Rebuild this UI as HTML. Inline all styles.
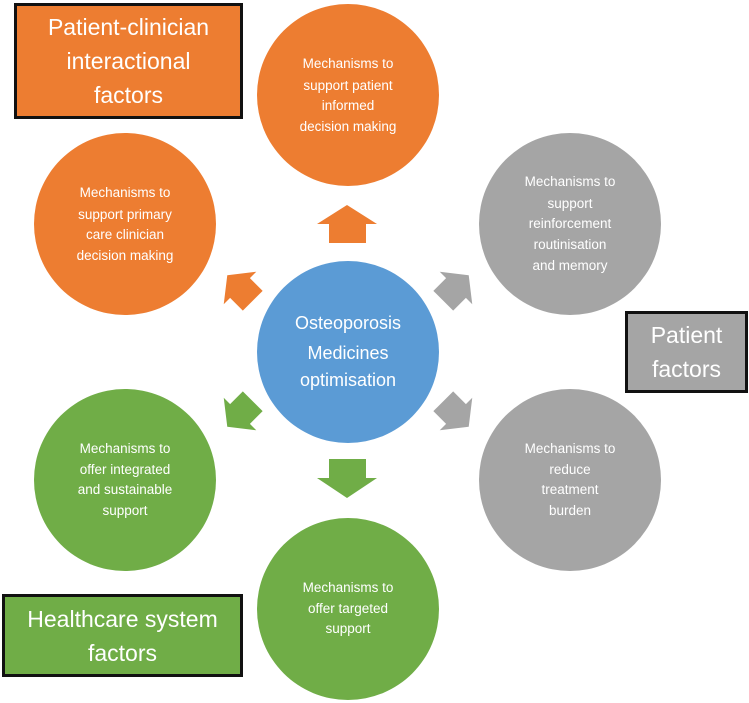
<!DOCTYPE html>
<html><head><style>
html,body{margin:0;padding:0;background:#fff;}
body{width:749px;height:703px;overflow:hidden;position:relative;font-family:"Liberation Sans",sans-serif;}
svg{position:absolute;left:0;top:0;}
.box{position:absolute;box-sizing:border-box;border:3px solid #111;color:#fff;text-align:center;font-size:23px;line-height:34px;display:flex;align-items:center;justify-content:center;}
</style></head><body>
<svg width="749" height="703" viewBox="0 0 749 703" font-family="Liberation Sans, sans-serif">
<g>
<ellipse cx="348" cy="95" rx="91" ry="91" fill="#ED7D31"/>
<ellipse cx="125" cy="224" rx="91" ry="91" fill="#ED7D31"/>
<ellipse cx="570" cy="224" rx="91" ry="91" fill="#A5A5A5"/>
<ellipse cx="348" cy="352" rx="91" ry="91" fill="#5B9BD5"/>
<ellipse cx="570" cy="480" rx="91" ry="91" fill="#A5A5A5"/>
<ellipse cx="125" cy="480" rx="91" ry="91" fill="#70AD47"/>
<ellipse cx="348" cy="609" rx="91" ry="91" fill="#70AD47"/>
</g>
<!-- straight arrows -->
<polygon points="347,205 377,224 366,224 366,243 329,243 329,224 317,224" fill="#ED7D31"/>
<polygon points="347,498 377,478 366,478 366,459 329,459 329,478 317,478" fill="#70AD47"/>
<!-- diagonal arrows: base shape pointing up centered at origin -->
<g transform="translate(240,288) rotate(-45)"><polygon points="0,-18 23,0 14,0 14,18 -14,18 -14,0 -23,0" fill="#ED7D31"/></g>
<g transform="translate(456,288) rotate(45)"><polygon points="0,-18 23,0 14,0 14,18 -14,18 -14,0 -23,0" fill="#A5A5A5"/></g>
<g transform="translate(240,414) rotate(-135)"><polygon points="0,-18 23,0 14,0 14,18 -14,18 -14,0 -23,0" fill="#70AD47"/></g>
<g transform="translate(456,414) rotate(135)"><polygon points="0,-18 23,0 14,0 14,18 -14,18 -14,0 -23,0" fill="#A5A5A5"/></g>
<g fill="#fff" font-size="13.5" text-anchor="middle">
<text x="348" y="68">Mechanisms to</text>
<text x="348" y="90">support patient</text>
<text x="348" y="110">informed</text>
<text x="348" y="131">decision making</text>
<text x="125" y="197">Mechanisms to</text>
<text x="125" y="219">support primary</text>
<text x="125" y="239">care clinician</text>
<text x="125" y="260">decision making</text>
<text x="570" y="186">Mechanisms to</text>
<text x="570" y="208">support</text>
<text x="570" y="228">reinforcement</text>
<text x="570" y="249">routinisation</text>
<text x="570" y="270">and memory</text>
<text x="570" y="453">Mechanisms to</text>
<text x="570" y="474">reduce</text>
<text x="570" y="494">treatment</text>
<text x="570" y="515">burden</text>
<text x="125" y="453">Mechanisms to</text>
<text x="125" y="474">offer integrated</text>
<text x="125" y="494">and sustainable</text>
<text x="125" y="515">support</text>
<text x="348" y="592">Mechanisms to</text>
<text x="348" y="613">offer targeted</text>
<text x="348" y="633">support</text>
</g>
<g fill="#fff" font-size="18" text-anchor="middle">
<text x="348" y="329">Osteoporosis</text>
<text x="348" y="359">Medicines</text>
<text x="348" y="386">optimisation</text>
</g>
</svg>
<div class="box" style="left:14px;top:3px;width:229px;height:116px;background:#ED7D31;">Patient-clinician<br>interactional<br>factors</div>
<div class="box" style="left:625px;top:311px;width:123px;height:82px;background:#A5A5A5;">Patient<br>factors</div>
<div class="box" style="left:2px;top:594px;width:241px;height:83px;background:#70AD47;">Healthcare system<br>factors</div>
</body></html>
